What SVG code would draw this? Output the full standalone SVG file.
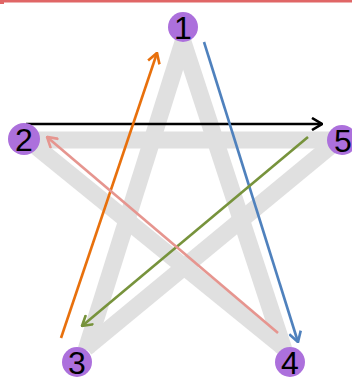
<svg xmlns="http://www.w3.org/2000/svg" width="352" height="377" viewBox="0 0 352 377">
<style>
.band{stroke:#e0e0e0;stroke-width:17;fill:none;stroke-linecap:butt}
.arr{fill:none;stroke-width:2.6}
.node circle{fill:#ac70dc}
.node text{font-family:"Liberation Sans",Arial,sans-serif;font-size:32px;fill:#000;text-anchor:middle}
</style>
<defs>
<marker id="mk" viewBox="0 0 12 14" refX="11" refY="7" markerWidth="12" markerHeight="14" markerUnits="userSpaceOnUse" orient="auto"><path d="M1,1 L11,7 L1,13" fill="none" stroke="#000" stroke-width="2.6"/></marker>
<marker id="mo" viewBox="0 0 12 14" refX="11" refY="7" markerWidth="12" markerHeight="14" markerUnits="userSpaceOnUse" orient="auto"><path d="M1,1 L11,7 L1,13" fill="none" stroke="#e8700c" stroke-width="2.6"/></marker>
<marker id="mb" viewBox="0 0 12 14" refX="11" refY="7" markerWidth="12" markerHeight="14" markerUnits="userSpaceOnUse" orient="auto"><path d="M1,1 L11,7 L1,13" fill="none" stroke="#4f81bd" stroke-width="2.6"/></marker>
<marker id="mg" viewBox="0 0 12 14" refX="11" refY="7" markerWidth="12" markerHeight="14" markerUnits="userSpaceOnUse" orient="auto"><path d="M1,1 L11,7 L1,13" fill="none" stroke="#77933c" stroke-width="2.6"/></marker>
<marker id="mp" viewBox="0 0 12 14" refX="11" refY="7" markerWidth="12" markerHeight="14" markerUnits="userSpaceOnUse" orient="auto"><path d="M1,1 L11,7 L1,13" fill="none" stroke="#e6958f" stroke-width="2.6"/></marker>
</defs>
<rect x="0" y="0" width="352" height="2.5" fill="#e06666"/>
<rect x="0" y="2" width="4" height="2" fill="#e06666"/>
<g id="star">
<line class="band" x1="183" y1="42" x2="86" y2="350"/>
<line class="band" x1="183" y1="42" x2="284" y2="350"/>
<line class="band" x1="26" y1="140" x2="340" y2="140"/>
<line class="band" x1="28" y1="140" x2="284" y2="348"/>
<line class="band" x1="86" y1="348" x2="338" y2="140"/>
</g>
<g id="connectors">
<line class="arr" stroke="#000" x1="26" y1="124" x2="322" y2="124" marker-end="url(#mk)"/>
<line class="arr" stroke="#e8700c" x1="61" y1="338" x2="157" y2="53" marker-end="url(#mo)"/>
<line class="arr" stroke="#4f81bd" x1="204" y1="42" x2="298" y2="342" marker-end="url(#mb)"/>
<line class="arr" stroke="#77933c" x1="308" y1="137" x2="82" y2="326" marker-end="url(#mg)"/>
<line class="arr" stroke="#e6958f" x1="278" y1="333" x2="47" y2="137" marker-end="url(#mp)"/>
</g>
<g id="n1" class="node"><circle cx="183" cy="27" r="15"/><text x="183" y="39">1</text></g>
<g id="n2" class="node"><circle cx="24" cy="139" r="16"/><text x="24" y="151">2</text></g>
<g id="n5" class="node"><circle cx="342" cy="140" r="15"/><text x="343" y="152">5</text></g>
<g id="n3" class="node"><circle cx="77" cy="362" r="15"/><text x="77" y="374">3</text></g>
<g id="n4" class="node"><circle cx="290" cy="362" r="15"/><text x="290" y="374">4</text></g>
</svg>
